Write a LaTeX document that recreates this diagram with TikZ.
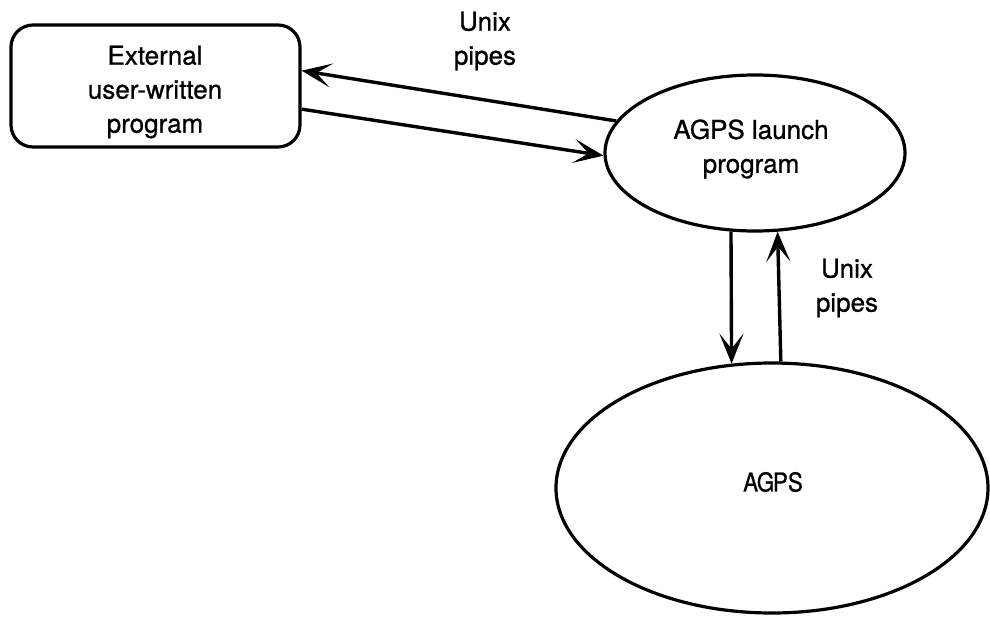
\documentclass[tikz,border=0pt]{standalone}
\usepackage{fontspec}
\setmainfont{TeX Gyre Heros}[FakeBold=0.9,AutoFakeBold=0.9]
\usetikzlibrary{arrows.meta,shapes.geometric}
\begin{document}
\begin{tikzpicture}[x=1pt,y=-1pt,
  every node/.style={font=\fontsize{26}{34}\selectfont},
  outline/.style={draw=black,line width=3.2pt},
  txt/.style={align=center,inner sep=0pt,font=\fontsize{26}{34}\selectfont\bfseries},
  pipe/.style={line width=3.4pt,-{Stealth[length=30pt,width=24pt,inset=15pt]}}]
\useasboundingbox (0,0) rectangle (990,618);
% shapes
\node[outline,rectangle,rounded corners=22pt,minimum width=289pt,minimum height=122pt,inner sep=0pt] (box) at (155.5,86) {};
\node[outline,ellipse,minimum width=300pt,minimum height=156pt,inner sep=0pt] (launch) at (755,153) {};
\node[outline,ellipse,minimum width=432pt,minimum height=250pt,inner sep=0pt] (agps) at (772,488) {};
% texts
\node[txt] (boxtext) at (155,92) {External\\user-written\\program};
\node[txt] (launchtext) at (751,149) {AGPS launch\\program};
\node[txt] (agpstext) at (773,482) {\scalebox{0.86}[1]{A\kern-1.5ptG\kern-1.5ptPS}};
\node[txt] (pipesA) at (485,41) {Unix\\pipes};
\node[txt] (pipesB) at (847,288) {Unix\\pipes};
% connectors
\draw[pipe] (launch.167.7) -- (box.6.2);
\draw[pipe] (box.-9.2) -- (launch.181.9);
\draw[pipe] (launch.253.4) -- (agps.108);
\draw[pipe] (agps.86.8) -- (launch.286.9);
\end{tikzpicture}
\end{document}
